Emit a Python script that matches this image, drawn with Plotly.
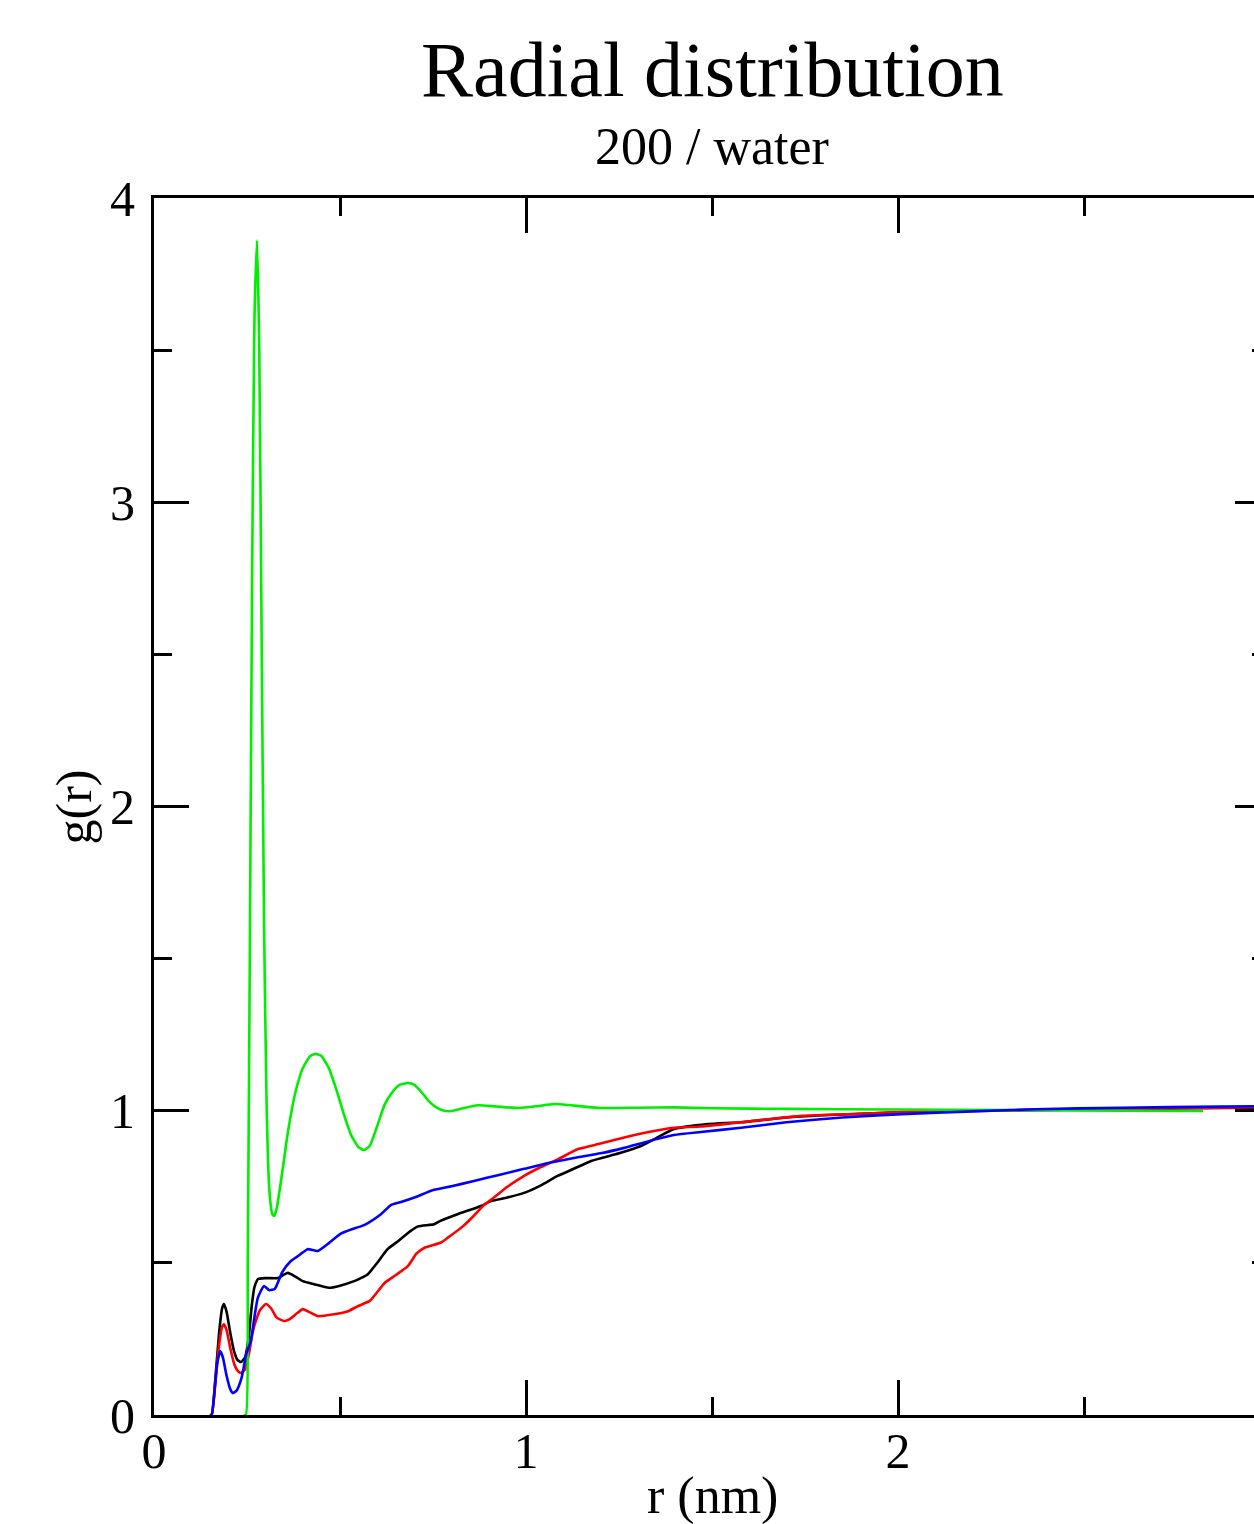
import plotly.graph_objects as go

# ---- data ----
r_black = [0.150, 0.155, 0.165, 0.175, 0.183, 0.188, 0.195, 0.205, 0.215, 0.225, 0.234, 0.245, 0.255, 0.262,
           0.270, 0.280, 0.300, 0.333, 0.350, 0.360, 0.380, 0.400, 0.430, 0.470, 0.500, 0.538, 0.556, 0.575,
           0.600, 0.628, 0.660, 0.690, 0.710, 0.753, 0.770, 0.816, 0.879, 0.906, 0.950, 0.995, 1.040, 1.085,
           1.130, 1.175, 1.250, 1.309, 1.350, 1.398, 1.489, 1.578, 1.700, 1.800, 1.900, 2.000, 2.200, 2.400,
           2.600, 2.800, 2.960]
g_black = [0.0, 0.0, 0.12, 0.27, 0.35, 0.365, 0.34, 0.27, 0.21, 0.18, 0.174, 0.19, 0.26, 0.35,
           0.42, 0.447, 0.45, 0.45, 0.462, 0.467, 0.455, 0.44, 0.43, 0.418, 0.425, 0.44, 0.45, 0.463,
           0.50, 0.545, 0.575, 0.605, 0.62, 0.627, 0.638, 0.66, 0.687, 0.703, 0.715, 0.73, 0.755, 0.786,
           0.81, 0.835, 0.86, 0.884, 0.91, 0.94, 0.956, 0.962, 0.978, 0.985, 0.99, 0.995, 1.0, 1.003,
           1.006, 1.008, 1.01]

r_red = [0.150, 0.155, 0.165, 0.175, 0.183, 0.188, 0.195, 0.205, 0.215, 0.225, 0.234, 0.245, 0.255, 0.265,
         0.274, 0.285, 0.301, 0.315, 0.330, 0.350, 0.365, 0.385, 0.400, 0.415, 0.440, 0.484, 0.520, 0.548,
         0.580, 0.620, 0.650, 0.683, 0.705, 0.726, 0.770, 0.790, 0.830, 0.860, 0.887, 0.914, 0.950, 0.995,
         1.040, 1.085, 1.140, 1.200, 1.264, 1.330, 1.398, 1.470, 1.532, 1.600, 1.740, 1.900, 2.000, 2.200,
         2.400, 2.600, 2.800, 2.960]
g_red = [0.0, 0.0, 0.11, 0.23, 0.29, 0.298, 0.28, 0.22, 0.17, 0.145, 0.138, 0.15, 0.20, 0.27,
         0.31, 0.345, 0.365, 0.35, 0.32, 0.309, 0.315, 0.335, 0.348, 0.34, 0.325, 0.331, 0.34, 0.358,
         0.375, 0.434, 0.46, 0.49, 0.53, 0.549, 0.566, 0.583, 0.62, 0.655, 0.69, 0.715, 0.75, 0.786,
         0.815, 0.84, 0.874, 0.892, 0.912, 0.93, 0.944, 0.948, 0.956, 0.965, 0.983, 0.99, 0.995, 0.999,
         1.003, 1.006, 1.009, 1.012]

r_green = [0.240, 0.247, 0.252, 0.258, 0.264, 0.270, 0.277, 0.283, 0.289, 0.296, 0.303, 0.310, 0.318, 0.323,
           0.330, 0.345, 0.360, 0.380, 0.400, 0.420, 0.435, 0.450, 0.470, 0.490, 0.510, 0.530, 0.550, 0.565,
           0.580, 0.600, 0.620, 0.640, 0.660, 0.683, 0.700, 0.720, 0.740, 0.760, 0.780, 0.800, 0.830, 0.870,
           0.920, 0.980, 1.030, 1.075, 1.130, 1.200, 1.300, 1.400, 1.500, 1.700, 2.000, 2.300, 2.600, 2.820]
g_green = [0.0, 0.0, 0.5, 1.6, 2.8, 3.6, 3.86, 3.5, 2.6, 1.6, 1.0, 0.74, 0.66, 0.654,
           0.68, 0.80, 0.93, 1.06, 1.14, 1.18, 1.187, 1.18, 1.14, 1.07, 0.99, 0.92, 0.88, 0.871,
           0.885, 0.95, 1.02, 1.06, 1.085, 1.091, 1.085, 1.06, 1.03, 1.01, 1.0, 0.999, 1.008, 1.018,
           1.014, 1.009, 1.015, 1.022, 1.017, 1.009, 1.01, 1.011, 1.008, 1.006, 1.004, 1.002, 1.0, 0.999]

r_blue = [0.150, 0.155, 0.163, 0.170, 0.178, 0.185, 0.195, 0.205, 0.212, 0.222, 0.235, 0.248, 0.260, 0.279,
          0.296, 0.310, 0.325, 0.345, 0.368, 0.390, 0.413, 0.440, 0.470, 0.502, 0.530, 0.556, 0.575, 0.610,
          0.637, 0.664, 0.700, 0.753, 0.800, 0.860, 0.930, 0.995, 1.060, 1.129, 1.200, 1.264, 1.330, 1.398,
          1.470, 1.578, 1.700, 1.850, 2.010, 2.200, 2.370, 2.600, 2.870, 2.960]
g_blue = [0.0, 0.0, 0.08, 0.17, 0.21, 0.19, 0.13, 0.085, 0.072, 0.08, 0.12, 0.20, 0.243, 0.385,
          0.424, 0.41, 0.415, 0.47, 0.506, 0.525, 0.545, 0.539, 0.565, 0.596, 0.61, 0.62, 0.631, 0.66,
          0.69, 0.70, 0.715, 0.74, 0.752, 0.769, 0.79, 0.809, 0.828, 0.845, 0.86, 0.878, 0.90, 0.92,
          0.93, 0.944, 0.962, 0.978, 0.989, 0.998, 1.005, 1.01, 1.014, 1.015]

x_ticks = [0, 1, 2, 3]
x_tick_text = ["0", "1", "2", ""]
y_ticks = [0, 1, 2, 3, 4]
y_tick_text = ["0", "1", "2", "3", "4"]

title_text = "Radial distribution"
subtitle_text = "200 / water"
x_title = "r (nm)"
y_title = "g(r)"

FONT = "Liberation Serif, Times New Roman, serif"

fig = go.Figure()
for rr, gg, col in [(r_black, g_black, "#000000"), (r_red, g_red, "#ff0000"),
                    (r_green, g_green, "#00ee00"), (r_blue, g_blue, "#0000ff")]:
    fig.add_trace(go.Scatter(x=rr, y=gg, mode="lines",
                             line=dict(color=col, width=2.6, shape="spline", smoothing=0.5),
                             showlegend=False, hoverinfo="skip"))

axis_common = dict(showline=True, linecolor="black", linewidth=3, mirror="ticks",
                   ticks="inside", ticklen=35, tickwidth=2.5, tickcolor="black",
                   showgrid=False, zeroline=False,
                   tickfont=dict(family=FONT, size=50, color="black"))

fig.update_layout(
    width=1291, height=1524,
    margin=dict(l=154, r=21, t=198, b=109),
    paper_bgcolor="white", plot_bgcolor="white",
    xaxis=dict(range=[0, 3], tickvals=x_ticks, ticktext=x_tick_text, ticklabelstandoff=-10,
               minor=dict(dtick=0.5, ticks="inside", ticklen=18, tickwidth=2.5, tickcolor="black"),
               **axis_common),
    yaxis=dict(range=[0, 4], tickvals=y_ticks, ticktext=y_tick_text, ticklabelstandoff=6,
               minor=dict(dtick=0.5, ticks="inside", ticklen=18, tickwidth=2.5, tickcolor="black"),
               **axis_common),
    annotations=[
        dict(text=title_text, xref="paper", yref="paper", x=0.5, y=1.1055, xanchor="center",
             yanchor="middle", showarrow=False, font=dict(family=FONT, size=78, color="black")),
        dict(text=subtitle_text, xref="paper", yref="paper", x=0.5, y=1.0424, xanchor="center",
             yanchor="middle", showarrow=False, font=dict(family=FONT, size=52, color="black")),
        dict(text=x_title, xref="paper", yref="paper", x=0.5, y=-0.0665, xanchor="center",
             yanchor="middle", showarrow=False, font=dict(family=FONT, size=52, color="black")),
        dict(text=y_title, xref="paper", yref="paper", x=-0.0717, y=0.5, xanchor="center",
             yanchor="middle", textangle=-90, showarrow=False,
             font=dict(family=FONT, size=50, color="black")),
    ],
)

post = ("var d=document.getElementById('{plot_id}');"
        "document.body.style.margin='0';document.body.style.overflow='hidden';"
        "d.parentElement.style.width='1254px';d.parentElement.style.overflow='hidden';")
fig.write_html("out.html", post_script=post, config={"displayModeBar": False})
